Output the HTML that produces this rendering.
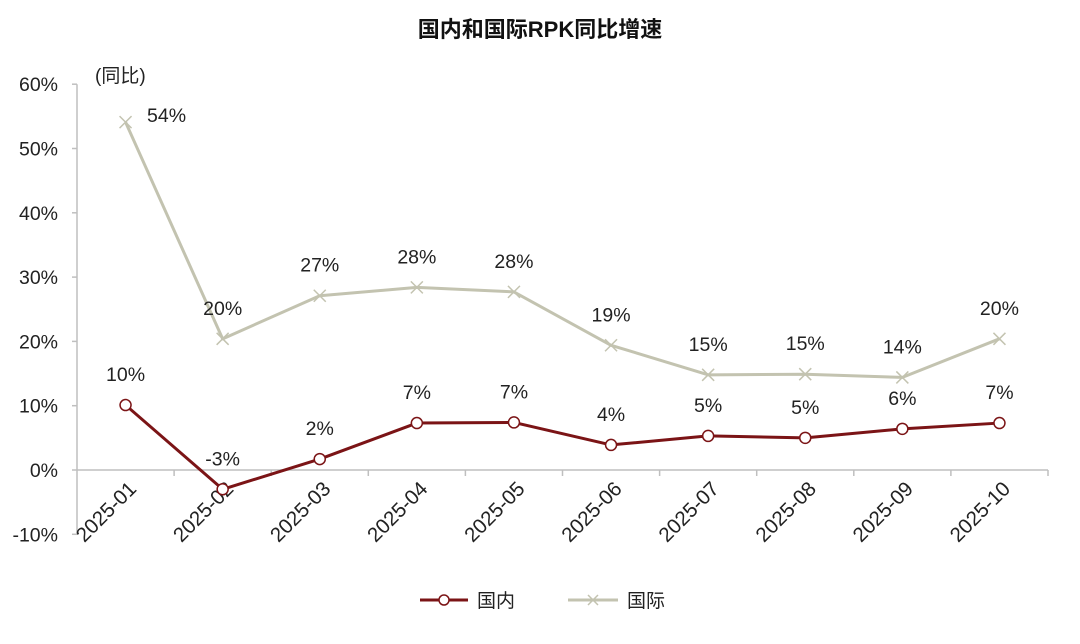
<!DOCTYPE html>
<html><head><meta charset="utf-8"><style>
body{margin:0;background:#fff}
svg text{font-family:"Liberation Sans","Noto Sans CJK SC",sans-serif}
</style></head><body>
<svg id="chart" width="1080" height="639">
<text x="540" y="37" text-anchor="middle" font-size="22" font-weight="bold" fill="#111">国内和国际RPK同比增速</text>
<text x="95" y="82" font-size="19" fill="#222">(同比)</text>
<g id="axes"></g><g id="series"></g>
<g>
<g>
<line x1="420" y1="600" x2="468" y2="600" stroke="#7b1416" stroke-width="3"/>
<circle cx="444" cy="600" r="5" fill="#fff" stroke="#7b1416" stroke-width="1.5"/>
<text x="477" y="607" font-size="19" fill="#222">国内</text></g>
<g>
<line x1="568" y1="600" x2="618" y2="600" stroke="#c3c3b0" stroke-width="3"/>
<path d="M588 595l10 10M598 595l-10 10" stroke="#c3c3b0" stroke-width="1.5"/>
<text x="627" y="607" font-size="19" fill="#222">国际</text></g>
</g>
</svg>
<script>
const categories=["2025-01","2025-02","2025-03","2025-04","2025-05","2025-06","2025-07","2025-08","2025-09","2025-10"];
const domestic=[10.1,-3.0,1.7,7.3,7.4,3.9,5.3,5.0,6.4,7.3];
const international=[54.1,20.4,27.1,28.4,27.7,19.4,14.8,14.9,14.4,20.4];
const yTicks=[-10,0,10,20,30,40,50,60];
const NS="http://www.w3.org/2000/svg";
const x0=77,x1=1048,n=categories.length,step=(x1-x0)/n;
const xs=i=>x0+step*(i+0.5);
const ys=v=>470-v*6.43;
function mk(p,t,a){const e=document.createElementNS(NS,t);for(const k in a)e.setAttribute(k,a[k]);p.appendChild(e);return e;}
const ax=document.getElementById('axes'),sr=document.getElementById('series');
const ya=mk(ax,'line',{x1:x0,y1:ys(60),x2:x0,y2:ys(-10),stroke:'#bfbfbf','stroke-width':1.5});


const xa=mk(ax,'line',{x1:x0,y1:ys(0),x2:x1,y2:ys(0),stroke:'#bfbfbf','stroke-width':1.5});


yTicks.forEach(v=>{
 mk(ax,'line',{x1:x0-5,y1:ys(v),x2:x0,y2:ys(v),stroke:'#bfbfbf','stroke-width':1.5});
 const t=mk(ax,'text',{x:58,y:ys(v)+7,'text-anchor':'end','font-size':19.5,fill:'#222'});
 t.textContent=v+'%';
 
 
});
for(let i=1;i<=n;i++)mk(ax,'line',{x1:x0+step*i,y1:ys(0),x2:x0+step*i,y2:ys(0)+6,stroke:'#bfbfbf','stroke-width':1.5});
categories.forEach((c,i)=>{
 const ax0=xs(i)+12,ay0=ys(0)+20;
 const t=mk(ax,'text',{x:ax0,y:ay0,'text-anchor':'end','font-size':20.5,fill:'#222',transform:`rotate(-45 ${ax0} ${ay0})`});
 t.textContent=c;
 
 
});
function series(vals,color,name,marker){
 const pl=mk(sr,'polyline',{points:vals.map((v,i)=>xs(i)+','+ys(v)).join(' '),fill:'none',stroke:color,'stroke-width':3,'stroke-linejoin':'round'});
 
 
 vals.forEach((v,i)=>{
  const x=xs(i),y=ys(v);let m;
  if(marker==='o')m=mk(sr,'circle',{cx:x,cy:y,r:5.5,fill:'#fff',stroke:color,'stroke-width':1.5});
  else m=mk(sr,'path',{d:`M${x-6} ${y-6}l12 12M${x+6} ${y-6}l-12 12`,stroke:color,'stroke-width':1.5});
  
  
  let lx=x,ly=y-24;
  if(name==='international'&&i===0){lx=x+41;ly=y;}
  const t=mk(sr,'text',{x:lx,y:ly,'text-anchor':'middle','font-size':19.5,fill:'#222'});
  t.textContent=Math.round(v)+'%';
  
  
 });
}
series(international,'#c3c3b0','international','x');
series(domestic,'#7b1416','domestic','o');
</script>
</body></html>
